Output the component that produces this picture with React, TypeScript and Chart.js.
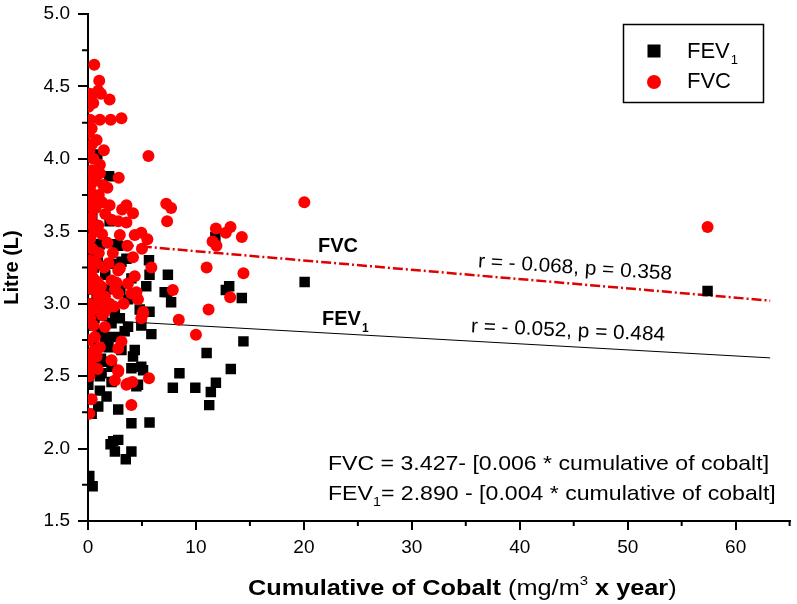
import React, { useEffect, useRef } from "react";
import { Chart, registerables } from "chart.js";
Chart.register(...registerables);

const FONT = "'Liberation Sans', Arial, sans-serif";

const xTicks = [0, 10, 20, 30, 40, 50, 60];
const yTicks = [1.5, 2.0, 2.5, 3.0, 3.5, 4.0, 4.5, 5.0];
const xMinor = [5, 15, 25, 35, 45, 55, 65];
const yMinor = [1.75, 2.25, 2.75, 3.25, 3.75, 4.25, 4.75];

const fvcX = [
  0.58, 1.04, 0.95, 1.2, 0.18, 0.34, 0.49, 2.0, 0.2, 1.1, 2.1, 3.1, 0.34, 0.8, 1.47, 5.6,
  0.1, 0.05, 0.1, 1.1, 0.5, 2.85, 0.3, 0.7, 1.4, 0.2, 1.0, 0.4, 2.0, 0.1, 3.56, 4.17,
  3.16, 7.25, 7.7, 7.33, 2.8, 3.56, 2.18, 0.95, 1.6, 0.3, 0.6, 0.1, 1.3, 2.95, 4.33, 4.94,
  5.5, 3.65, 5.0, 4.17, 2.95, 5.87, 0.2, 1.8, 0.4, 1.0, 2.3, 0.15, 0.8, 1.5, 11.85, 13.2,
  12.77, 11.54, 11.9, 14.25, 10.99, 14.4, 11.17, 13.17, 7.86, 8.41, 10.0, 5.1, 4.94, 20.04, 57.4, 2.8,
  4.33, 3.7, 2.18, 2.64, 4.48, 4.02, 4.63, 2.8, 1.57, 0.95, 0.64, 2.0, 5.1, 1.57, 0.64, 3.1,
  1.1, 2.8, 0.8, 2.18, 2.8, 0.34, 3.7, 0.49, 0.34, 0.34, 0.12, 4.02, 5.65, 2.49, 3.56, 4.11,
  0.12, 2.8, 1.2, 0.3, 0.1, 1.3, 0.2, 0.5, 0.1, 0.05, 1.6, 2.4, 0.9, 0.0, 0.6, 1.8,
  0.25, 0.7, 1.3, 0.0, 0.45, 1.9, 0.15, 0.9, 2.5, 0.35, 1.1, 0.05, 0.6, 1.4, 3.3, 0.3,
];
const fvcY = [
  4.65, 4.54, 4.47, 4.45, 4.45, 4.44, 4.385, 4.41, 4.27, 4.27, 4.27, 4.28, 4.21, 4.13, 4.06, 4.02,
  4.18, 4.36, 4.05, 3.96, 4.0, 3.87, 3.92, 3.85, 3.82, 3.78, 3.75, 3.72, 3.68, 3.68, 3.68, 3.625,
  3.65, 3.69, 3.66, 3.57, 3.57, 3.56, 3.58, 3.54, 3.62, 3.6, 3.5, 3.55, 3.48, 3.475, 3.475, 3.49,
  3.445, 3.4, 3.38, 3.32, 3.245, 3.25, 3.45, 3.42, 3.38, 3.35, 3.35, 3.3, 3.28, 3.25, 3.52, 3.53,
  3.49, 3.43, 3.4, 3.46, 3.25, 3.21, 2.96, 3.045, 3.095, 2.89, 2.785, 2.93, 2.9, 3.7, 3.53, 3.23,
  3.19, 3.14, 3.16, 3.145, 3.08, 3.07, 3.03, 3.07, 3.05, 3.05, 2.98, 3.0, 2.945, 2.84, 2.77, 2.74,
  2.7, 2.69, 2.635, 2.61, 2.54, 2.57, 2.45, 3.175, 3.23, 2.34, 2.24, 2.3, 2.485, 2.47, 2.44, 2.46,
  2.5, 2.53, 3.12, 3.1, 3.0, 2.92, 2.9, 2.85, 2.75, 2.65, 2.95, 2.98, 3.15, 3.2, 3.9, 3.8,
  3.82, 3.66, 3.7, 3.4, 3.15, 3.28, 2.6, 2.55, 3.1, 4.1, 3.9, 3.9, 2.68, 3.0, 3.0, 2.95,
];

const fevX = [
  0.86, 1.96, 0.49, 2.0, 0.28, 2.8, 3.56, 5.65, 2.18, 7.4, 5.7, 1.1, 11.8, 20.07, 57.4, 13.08,
  12.77, 14.25, 7.33, 7.7, 7.1, 14.4, 10.99, 8.47, 13.23, 5.87, 9.94, 11.85, 11.38, 11.23, 7.86, 5.7,
  4.02, 2.8, 4.48, 2.33, 2.8, 2.49, 4.02, 3.5, 2.09, 1.72, 1.1, 0.95, 0.34, 0.12, 0.43, 0.03,
  1.1, 5.1, 5.7, 4.94, 4.79, 3.71, 2.95, 3.71, 2.49, 1.57, 3.1, 4.33, 4.17, 4.94, 4.02, 2.18,
  1.26, 0.34, 0.34, 0.03, 2.18, 4.63, 5.4, 3.1, 4.02, 1.41, 2.49, 2.18, 0.49, 3.4, 2.64, 0.1,
  0.3, 0.6, 0.2, 1.0, 0.7, 1.5, 0.1, 0.9, 1.8, 0.4, 0.2, 0.05, 1.3, 0.6, 0.15, 1.9,
  0.8, 0.25, 1.2, 0.0, 0.55, 1.6, 3.0, 0.35,
];
const fevY = [
  4.03, 3.88, 3.705, 3.57, 3.45, 3.4, 3.31, 3.3, 3.275, 3.2, 3.2, 3.41, 3.46, 3.15, 3.088, 3.12,
  3.095, 3.04, 3.08, 3.01, 3.08, 2.74, 2.66, 2.52, 2.55, 2.79, 2.42, 2.455, 2.39, 2.3, 2.42, 2.18,
  2.175, 2.27, 2.43, 2.05, 2.06, 1.98, 1.98, 1.926, 2.03, 2.36, 2.4, 2.29, 2.24, 1.81, 1.74, 2.5,
  2.5, 2.54, 2.945, 2.85, 2.96, 3.03, 2.9, 2.84, 2.77, 2.77, 2.68, 2.68, 2.635, 2.565, 2.555, 2.565,
  2.52, 2.635, 2.52, 2.44, 2.46, 2.44, 3.12, 3.29, 3.175, 2.93, 2.93, 2.865, 2.865, 2.81, 3.41, 3.0,
  2.95, 3.1, 3.2, 2.8, 2.7, 2.6, 2.55, 3.3, 3.1, 3.6, 3.35, 2.75, 3.0, 2.9, 3.1, 2.7,
  3.05, 2.95, 2.62, 2.85, 3.25, 3.2, 3.1, 3.68,
];

const lineX = [0, 63.2];
const fvcLineY = [3.427, 3.021];
const fevLineY = [2.89, 2.626];

function pts(xs: number[], ys: number[]) {
  return xs.map((x, i) => ({ x, y: ys[i] }));
}

function txt(
  ctx: CanvasRenderingContext2D,
  s: string,
  x: number,
  y: number,
  font: string,
  sx = 1
): number {
  ctx.save();
  ctx.font = font;
  ctx.translate(x, y);
  ctx.scale(sx, 1);
  ctx.fillText(s, 0, 0);
  const w = ctx.measureText(s).width * sx;
  ctx.restore();
  return w;
}

const decorPlugin = {
  id: "decor",
  afterDraw(chart: any) {
    const ctx = chart.ctx as CanvasRenderingContext2D;
    const xs = chart.scales.x;
    const ys = chart.scales.y;
    const area = chart.chartArea;
    ctx.save();
    // minor ticks
    ctx.strokeStyle = "#000";
    ctx.lineWidth = 2;
    ctx.beginPath();
    xMinor.forEach((v) => {
      const p = xs.getPixelForValue(v);
      ctx.moveTo(p, area.bottom);
      ctx.lineTo(p, area.bottom + 5);
    });
    yMinor.forEach((v) => {
      const p = ys.getPixelForValue(v);
      ctx.moveTo(area.left, p);
      ctx.lineTo(area.left - 6, p);
    });
    ctx.stroke();

    ctx.fillStyle = "#000";
    ctx.textBaseline = "alphabetic";
    ctx.textAlign = "left";

    // legend box
    ctx.lineWidth = 1.5;
    ctx.strokeRect(623.5, 24.5, 140, 78);
    ctx.fillRect(647.5, 44.5, 13, 13);
    ctx.fillStyle = "#ff0000";
    ctx.beginPath();
    ctx.arc(654, 82, 7, 0, Math.PI * 2);
    ctx.fill();
    ctx.fillStyle = "#000";
    let w = txt(ctx, "FEV", 687, 58, `22px ${FONT}`);
    txt(ctx, "1", 687 + w + 1, 64, `13px ${FONT}`);
    txt(ctx, "FVC", 687, 88, `22px ${FONT}`);

    // line labels
    txt(ctx, "FVC", 318, 252, `bold 20px ${FONT}`);
    w = txt(ctx, "FEV", 322, 325, `bold 20px ${FONT}`);
    txt(ctx, "1", 322 + w + 1, 332, `bold 12px ${FONT}`);

    // r, p
    ctx.textAlign = "center";
    ctx.textBaseline = "middle";
    ctx.save();
    ctx.translate(575, 268);
    ctx.rotate(0.064);
    txt(ctx, "r = - 0.068, p = 0.358", 0, 0, `20px ${FONT}`, 1.04);
    ctx.restore();
    ctx.save();
    ctx.translate(568, 331);
    ctx.rotate(0.045);
    txt(ctx, "r = - 0.052, p = 0.484", 0, 0, `20px ${FONT}`, 1.04);
    ctx.restore();

    // equations
    ctx.textAlign = "left";
    ctx.textBaseline = "alphabetic";
    const eqF = `21px ${FONT}`;
    const sx = 1.1;
    txt(ctx, "FVC = 3.427- [0.006 * cumulative of cobalt]", 328, 470, eqF, sx);
    w = txt(ctx, "FEV", 328, 500, eqF, sx);
    const w1 = txt(ctx, "1", 328 + w, 506, `13px ${FONT}`, sx);
    txt(ctx, "= 2.890 - [0.004 * cumulative of cobalt]", 328 + w + w1, 500, eqF, sx);

    // x title
    let x = 248;
    const by = 595;
    const tsx = 1.15;
    const parts: [string, string, number][] = [
      ["Cumulative of Cobalt ", `bold 22px ${FONT}`, 0],
      ["(mg/m", `22px ${FONT}`, 0],
      ["3", `13px ${FONT}`, -10],
      [" x year", `bold 22px ${FONT}`, 0],
      [")", `22px ${FONT}`, 0],
    ];
    parts.forEach(([t, f, dy]) => {
      x += txt(ctx, t, x, by + dy, f, tsx);
    });
    ctx.restore();
  },
};

export default function App() {
  const ref = useRef<HTMLCanvasElement | null>(null);
  useEffect(() => {
    if (!ref.current) return;
    const chart = new Chart(ref.current, {
      type: "scatter",
      data: {
        datasets: [
          {
            label: "FVC",
            data: pts(fvcX, fvcY),
            pointStyle: "circle",
            pointRadius: 6,
            backgroundColor: "#ff0000",
            borderWidth: 0,
            order: 1,
          },
          {
            label: "FEV1",
            data: pts(fevX, fevY),
            pointStyle: "rect",
            pointRadius: 7.4,
            backgroundColor: "#000000",
            borderWidth: 0,
            order: 2,
          },
          {
            label: "FVC fit",
            type: "line",
            data: pts(lineX, fvcLineY),
            borderColor: "#e00000",
            borderWidth: 2.5,
            borderDash: [10, 3, 2, 3],
            pointRadius: 0,
            fill: false,
            order: 3,
          },
          {
            label: "FEV1 fit",
            type: "line",
            data: pts(lineX, fevLineY),
            borderColor: "#000000",
            borderWidth: 1,
            pointRadius: 0,
            fill: false,
            order: 3,
          },
        ] as any,
      },
      options: {
        animation: false,
        responsive: false,
        events: [],
        layout: { padding: { top: 14, right: 2, left: 0, bottom: 0 } },
        plugins: { legend: { display: false }, tooltip: { enabled: false } },
        scales: {
          x: {
            type: "linear",
            min: 0,
            max: 65,
            afterBuildTicks: (s: any) => {
              s.ticks = xTicks.map((v) => ({ value: v }));
            },
            afterFit: (s: any) => {
              s.height = 83;
              s.paddingLeft = 0;
              s.paddingRight = 0;
            },
            grid: {
              drawOnChartArea: false,
              drawTicks: true,
              tickLength: 9,
              color: "#000",
              lineWidth: 2,
            },
            border: { display: true, color: "#000", width: 2 },
            ticks: {
              color: "#000",
              font: { family: FONT, size: 19 },
              padding: 6,
              maxRotation: 0,
              callback: (v: any) => String(v),
            },
          },
          y: {
            type: "linear",
            min: 1.5,
            max: 5.0,
            afterBuildTicks: (s: any) => {
              s.ticks = yTicks.map((v) => ({ value: v }));
            },
            afterFit: (s: any) => {
              s.width = 88;
              s.paddingTop = 0;
              s.paddingBottom = 0;
            },
            grid: {
              drawOnChartArea: false,
              drawTicks: true,
              tickLength: 10,
              color: "#000",
              lineWidth: 2,
            },
            border: { display: true, color: "#000", width: 2 },
            ticks: {
              color: "#000",
              font: { family: FONT, size: 19 },
              padding: 8,
              callback: (v: any) => Number(v).toFixed(1),
            },
            title: {
              display: true,
              text: "Litre (L)",
              color: "#000",
              font: { family: FONT, size: 20, weight: "bold" },
              padding: 0,
            },
          },
        },
      },
      plugins: [decorPlugin],
    } as any);
    return () => chart.destroy();
  }, []);
  return (
    <div style={{ position: "fixed", left: 0, top: 0, width: 797, height: 604, background: "#fff" }}>
      <canvas ref={ref} width={797} height={604} style={{ width: 797, height: 604 }} />
    </div>
  );
}
